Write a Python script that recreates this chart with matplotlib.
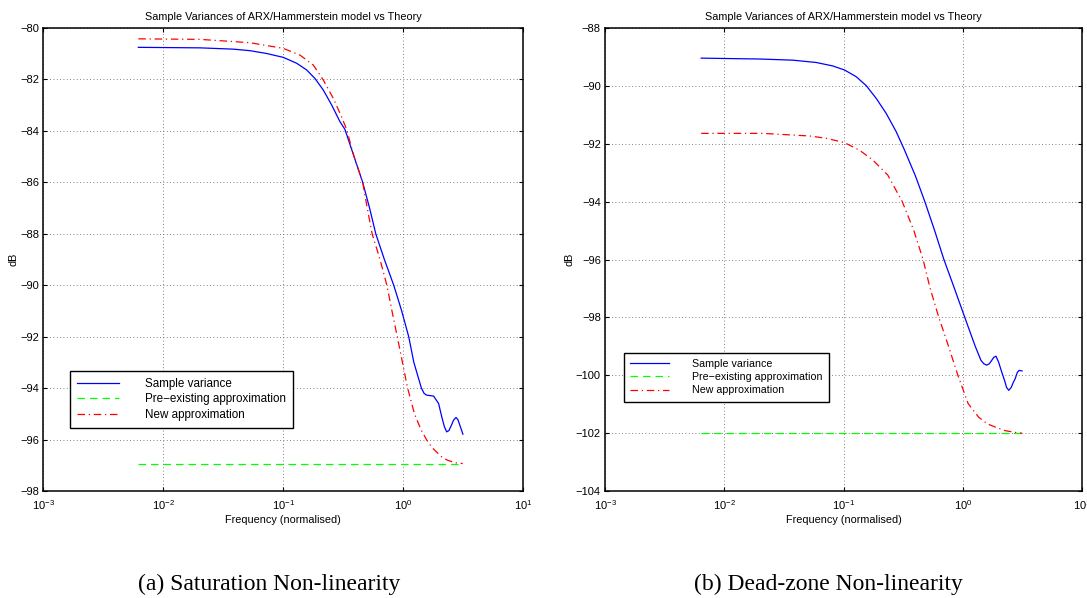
import matplotlib
matplotlib.use('Agg')
import matplotlib.pyplot as plt
import numpy as np

plt.rcParams['font.family'] = ['Liberation Sans', 'DejaVu Sans']
plt.rcParams['mathtext.fontset'] = 'custom'
plt.rcParams['mathtext.rm'] = 'Liberation Sans'
plt.rcParams['mathtext.it'] = 'Liberation Sans:italic'

# ---- (a) Saturation non-linearity ----
sat_blue_f = [0.0062, 0.0202, 0.0383, 0.0528, 0.0727, 0.100, 0.1294, 0.1567, 0.1837, 0.2155,
              0.253, 0.2967, 0.3265, 0.389, 0.459, 0.524, 0.590, 0.696, 0.833, 0.970, 1.11,
              1.225, 1.416, 1.49, 1.56, 1.79, 1.97, 2.04, 2.11, 2.20, 2.30, 2.40, 2.52, 2.62,
              2.75, 2.85, 2.94, 3.14]
sat_blue_db = [-80.75, -80.77, -80.82, -80.88, -80.99, -81.14, -81.37, -81.63, -81.96, -82.41,
               -82.99, -83.64, -83.94, -85.0, -86.0, -87.0, -88.0, -89.0, -90.0, -91.0, -92.0,
               -93.0, -94.0, -94.2, -94.27, -94.31, -94.6, -94.9, -95.18, -95.5, -95.7,
               -95.65, -95.44, -95.25, -95.14, -95.22, -95.4, -95.79]
sat_red_f = [0.0062, 0.0202, 0.0528, 0.100, 0.1377, 0.178, 0.2155, 0.261, 0.306, 0.337, 0.389,
             0.459, 0.501, 0.550, 0.640, 0.730, 0.805, 0.891, 0.984, 1.087, 1.24, 1.40, 1.56,
             1.73, 1.91, 2.10, 2.33, 2.70, 3.13]
sat_red_db = [-80.42, -80.44, -80.57, -80.79, -81.05, -81.44, -82.02, -82.73, -83.45, -83.94,
              -85.0, -86.0, -87.0, -88.0, -89.0, -90.0, -91.0, -92.0, -93.0, -94.0, -95.0,
              -95.6, -96.0, -96.3, -96.5, -96.68, -96.8, -96.9, -96.93]
sat_green_f = [0.0062, 3.14]
sat_green_db = [-96.95, -96.95]

# ---- (b) Dead-zone non-linearity ----
dz_blue_f = [0.0064, 0.0198, 0.0376, 0.059, 0.0813, 0.102, 0.1276, 0.155, 0.188, 0.228,
             0.2765, 0.325, 0.400, 0.481, 0.580, 0.695, 0.850, 1.04, 1.27, 1.42, 1.50, 1.585,
             1.67, 1.74, 1.82, 1.90, 2.00, 2.10, 2.25, 2.33, 2.43, 2.55, 2.65, 2.75, 2.87,
             2.97, 3.14]
dz_blue_db = [-89.04, -89.07, -89.11, -89.19, -89.31, -89.45, -89.68, -89.99, -90.43, -90.95,
              -91.58, -92.22, -93.1, -94.0, -94.99, -96.0, -96.99, -98.0, -98.99, -99.48,
              -99.6, -99.65, -99.6, -99.5, -99.38, -99.34, -99.55, -99.83, -100.2, -100.42,
              -100.52, -100.42, -100.25, -100.12, -99.9, -99.83, -99.85]
dz_red_f = [0.0064, 0.021, 0.0519, 0.0716, 0.102, 0.136, 0.176, 0.235, 0.311, 0.388, 0.465,
            0.532, 0.630, 0.760, 0.910, 1.11, 1.36, 1.61, 1.90, 2.25, 2.70, 3.14]
dz_red_db = [-91.64, -91.64, -91.73, -91.81, -91.96, -92.22, -92.56, -93.08, -94.0, -94.99,
             -96.0, -96.99, -98.0, -99.0, -100.0, -100.98, -101.45, -101.68, -101.8, -101.91,
             -101.97, -102.0]
dz_green_f = [0.0064, 3.14]
dz_green_db = [-102.0, -102.0]

title = 'Sample Variances of ARX/Hammerstein model vs Theory'
labels = ['Sample variance', 'Pre\u2212existing approximation', 'New approximation']

fig = plt.figure(figsize=(10.87, 5.98), dpi=100)
ax1 = fig.add_axes([0.0398, 0.1789, 0.4416, 0.7742])
ax2 = fig.add_axes([0.5566, 0.1789, 0.4388, 0.7742])


def draw(ax, bf, bdb, gf, gdb, rf, rdb, ylim, yticks, leg_anchor, leg_size):
    ax.plot(bf, bdb, color='#0000ff', lw=0.9, label=labels[0])
    ax.plot(gf, gdb, color='#00ff00', lw=0.9, ls=(0, (6, 4)), label=labels[1])
    ax.plot(rf, rdb, color='#ff0000', lw=0.9, ls=(0, (6, 3, 1, 3)), label=labels[2])
    ax.set_xscale('log')
    ax.set_xlim(1e-3, 1e1)
    ax.set_ylim(*ylim)
    ax.set_xticks([1e-3, 1e-2, 1e-1, 1e0, 1e1])
    ax.xaxis.set_minor_locator(matplotlib.ticker.NullLocator())
    ax.set_yticks(yticks)
    ax.grid(True, color='0.35', lw=0.6, ls=(0, (1, 3)))
    ax.tick_params(direction='in', top=True, right=True, length=3, width=0.8,
                   labelsize=8, pad=3)
    ax.tick_params(axis='x', pad=5)
    for s in ax.spines.values():
        s.set_linewidth(1.1)
    ax.set_title(title, fontsize=7.8, pad=6)
    ax.set_xlabel('Frequency (normalised)', fontsize=7.8, labelpad=2)
    ax.set_ylabel('dB', fontsize=7.8, labelpad=1)
    leg = ax.legend(loc='upper left', bbox_to_anchor=leg_anchor, fontsize=leg_size,
                    fancybox=False, framealpha=1, edgecolor='black',
                    handlelength=3.6, handletextpad=2.2, labelspacing=0.3,
                    borderpad=0.6, borderaxespad=0)
    leg.get_frame().set_linewidth(1.0)


draw(ax1, sat_blue_f, sat_blue_db, sat_green_f, sat_green_db, sat_red_f, sat_red_db,
     (-98, -80), np.arange(-98, -79, 2), (0.0554, 0.26), 8.4)
draw(ax2, dz_blue_f, dz_blue_db, dz_green_f, dz_green_db, dz_red_f, dz_red_db,
     (-104, -88), np.arange(-104, -87, 2), (0.039, 0.299), 7.7)

fig.text(0.248, 0.022, '(a) Saturation Non-linearity', ha='center', va='center',
         family='Liberation Serif', fontsize=17)
fig.text(0.762, 0.022, '(b) Dead-zone Non-linearity', ha='center', va='center',
         family='Liberation Serif', fontsize=17)

fig.savefig('out.png', dpi=100)
